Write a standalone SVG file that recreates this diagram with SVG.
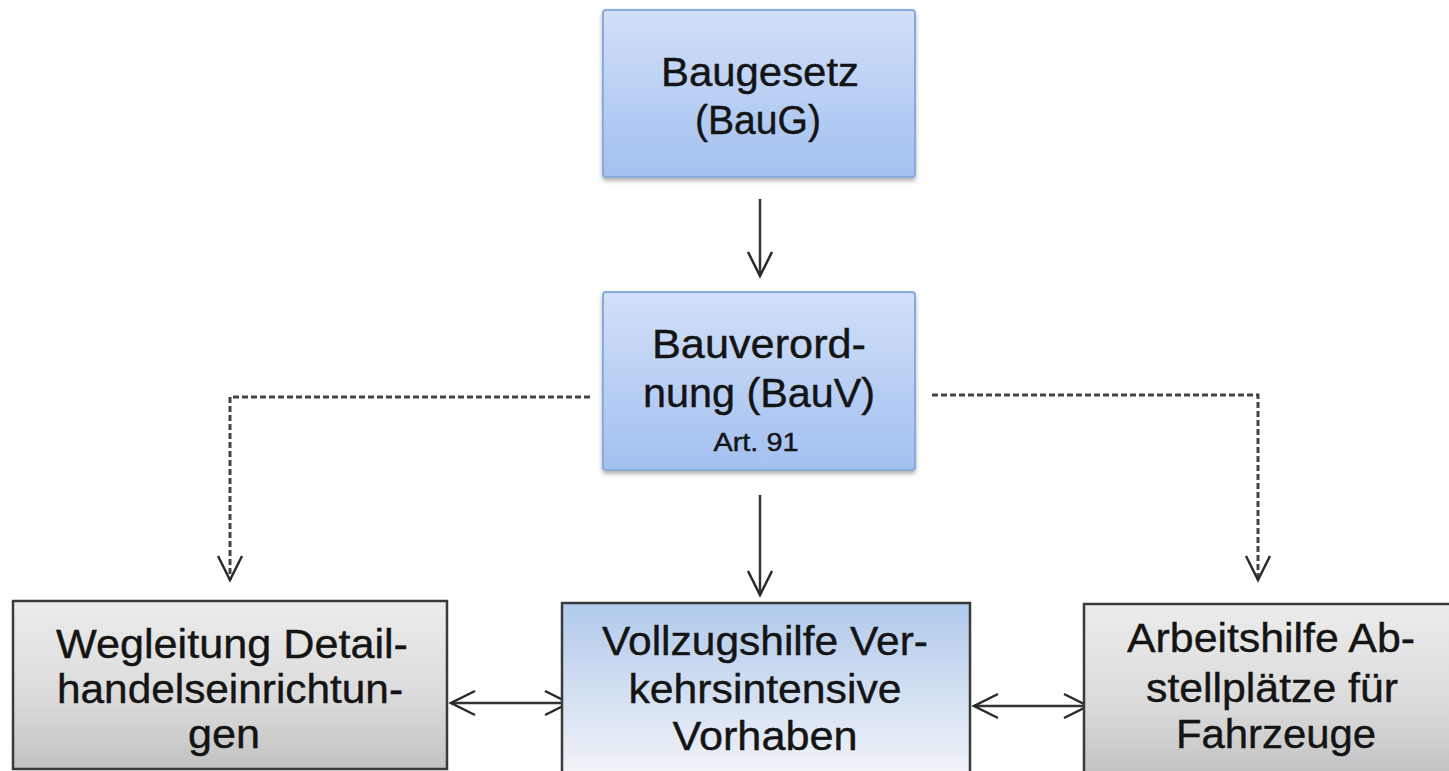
<svg xmlns="http://www.w3.org/2000/svg" width="1449" height="771" viewBox="0 0 1449 771">
<defs>
<linearGradient id="gBlue" x1="0" y1="0" x2="0" y2="1">
<stop offset="0" stop-color="#d2e0f8"/>
<stop offset="1" stop-color="#a2c0f0"/>
</linearGradient>
<linearGradient id="gMid" x1="0" y1="0" x2="0" y2="1">
<stop offset="0" stop-color="#b1caec"/>
<stop offset="1" stop-color="#f1f3f7"/>
</linearGradient>
<linearGradient id="gGray" x1="0" y1="0" x2="0" y2="1">
<stop offset="0" stop-color="#ececec"/>
<stop offset="0.6" stop-color="#dadada"/>
<stop offset="1" stop-color="#c2c2c2"/>
</linearGradient>
<filter id="sh" x="-5%" y="-5%" width="110%" height="115%">
<feDropShadow dx="0" dy="3" stdDeviation="2" flood-color="#000" flood-opacity="0.3"/>
</filter>
<marker id="arr" viewBox="-26 -14 30 28" refX="0" refY="0" markerWidth="30" markerHeight="28" markerUnits="userSpaceOnUse" orient="auto-start-reverse">
<path d="M-24,-12 L0,0 L-24,12" fill="none" stroke="#2a2a2a" stroke-width="2.5" stroke-linejoin="miter"/>
</marker>
<style>
.txt{font-family:"Liberation Sans",Arial,Helvetica,sans-serif;fill:#141414;text-anchor:middle;stroke:#141414;stroke-width:0.4}
.big{font-size:40px}
.small{font-size:25px}
.bluebox{fill:url(#gBlue);stroke:#88aadc;stroke-width:2;filter:url(#sh)}
.midbox{fill:url(#gMid);stroke:#3a3a3a;stroke-width:2.5}
.graybox{fill:url(#gGray);stroke:#3a3a3a;stroke-width:2.5}
.solid{fill:none;stroke:#333;stroke-width:2.5}
.dash{fill:none;stroke:#444;stroke-width:3;stroke-dasharray:6 3}
</style>
</defs>
<rect width="1449" height="771" fill="#ffffff"/>

<g id="connectors">
<line class="solid" x1="760" y1="199" x2="760" y2="276" marker-end="url(#arr)"/>
<line class="solid" x1="760" y1="495" x2="760" y2="595" marker-end="url(#arr)"/>
<polyline class="dash" points="590,397 230,397 230,580" marker-end="url(#arr)"/>
<polyline class="dash" points="932,395 1258,395 1258,580" marker-end="url(#arr)"/>
<line class="solid" x1="451" y1="703" x2="569" y2="703" marker-start="url(#arr)" marker-end="url(#arr)"/>
<line class="solid" x1="974" y1="706" x2="1088" y2="706" marker-start="url(#arr)" marker-end="url(#arr)"/>
</g>

<g id="baugesetz">
<rect class="bluebox" x="603" y="10" width="312" height="167" rx="3"/>
<text class="txt big" x="760" y="86" textLength="198" lengthAdjust="spacingAndGlyphs">Baugesetz</text>
<text class="txt big" x="758" y="134" textLength="126" lengthAdjust="spacingAndGlyphs">(BauG)</text>
</g>

<g id="bauverordnung">
<rect class="bluebox" x="603" y="292" width="312" height="178" rx="3"/>
<text class="txt big" x="759" y="358" textLength="214" lengthAdjust="spacingAndGlyphs">Bauverord-</text>
<text class="txt big" x="759" y="407" textLength="232" lengthAdjust="spacingAndGlyphs">nung (BauV)</text>
<text class="txt small" x="756" y="451" textLength="85" lengthAdjust="spacingAndGlyphs">Art. 91</text>
</g>

<g id="wegleitung">
<rect class="graybox" x="13" y="601" width="434" height="168"/>
<text class="txt big" x="232" y="658" textLength="352" lengthAdjust="spacingAndGlyphs">Wegleitung Detail-</text>
<text class="txt big" x="230" y="703" textLength="346" lengthAdjust="spacingAndGlyphs">handelseinrichtun-</text>
<text class="txt big" x="224" y="748" textLength="72" lengthAdjust="spacingAndGlyphs">gen</text>
</g>

<g id="vollzugshilfe">
<rect class="midbox" x="562" y="603" width="408" height="172"/>
<text class="txt big" x="765" y="655" textLength="326" lengthAdjust="spacingAndGlyphs">Vollzugshilfe Ver-</text>
<text class="txt big" x="765" y="703" textLength="273" lengthAdjust="spacingAndGlyphs">kehrsintensive</text>
<text class="txt big" x="765" y="750" textLength="185" lengthAdjust="spacingAndGlyphs">Vorhaben</text>
</g>

<g id="arbeitshilfe">
<rect class="graybox" x="1084" y="604" width="380" height="172"/>
<text class="txt big" x="1271" y="652" textLength="288" lengthAdjust="spacingAndGlyphs">Arbeitshilfe Ab-</text>
<text class="txt big" x="1272" y="702" textLength="252" lengthAdjust="spacingAndGlyphs">stellplätze für</text>
<text class="txt big" x="1276" y="748" textLength="200" lengthAdjust="spacingAndGlyphs">Fahrzeuge</text>
</g>
</svg>
